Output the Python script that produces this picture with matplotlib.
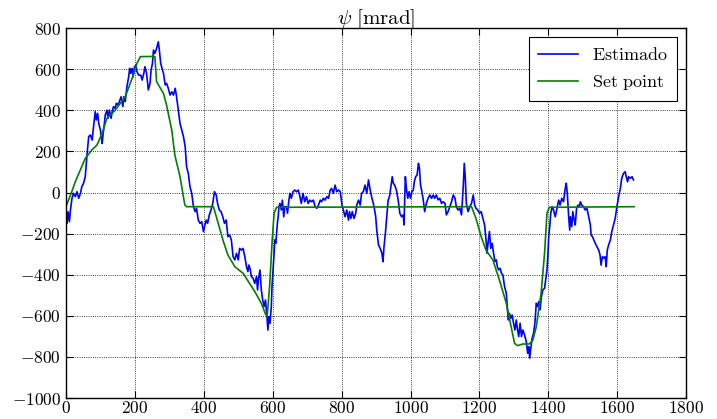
import matplotlib
matplotlib.use("Agg")
import matplotlib.pyplot as plt
from matplotlib.ticker import FuncFormatter

plt.rcParams['mathtext.fontset'] = 'cm'
plt.rcParams['font.family'] = ['DejaVu Serif']

# Estimado (blue)
est_x = [0, 3, 6, 10, 13, 17.5, 22, 27, 32, 37, 42, 46, 51, 56, 61, 66, 71, 76, 80, 85,
         88, 92, 95, 100, 105, 107, 111, 114, 119, 122, 126, 131, 134, 138, 143, 146, 151,
         155, 160, 165, 168, 172, 177, 182, 185, 188, 192, 195, 199, 203, 206, 211, 217,
         221, 226,
         229, 234, 239, 244, 247, 251, 254, 258, 263, 268, 271, 275, 280, 283, 288, 292,
         297, 302, 307, 312, 317, 321, 326, 331, 336, 341, 346, 350, 355, 360, 365, 370,
         375, 379, 384, 389, 394, 399, 402, 407, 411, 416, 421, 426, 431, 436, 440, 445,
         450, 455, 460, 465,
         470, 475, 480, 485, 490, 495, 500, 504, 509, 514, 519, 524, 528, 531, 535, 538,
         543, 548, 553, 556, 559, 563, 567, 571, 575, 579, 583, 586, 589, 592, 596, 598,
         601, 604, 606, 609, 612, 614, 616, 618, 621, 625, 628, 632, 635, 640, 643, 647,
         650, 654, 659, 664, 669, 674, 678, 683, 688, 693, 698, 703,
         708, 713, 718, 723, 728, 733, 738, 742, 747, 752, 757, 762, 767, 771, 776, 781,
         786, 791, 796, 798, 801, 805, 810, 815, 820, 823, 827, 831, 836, 841, 844, 849,
         854, 858, 863, 868, 873, 878, 883, 888, 892, 895, 899, 902, 907, 912, 917, 920,
         923, 927, 931, 935, 939, 943, 947,
         950, 954, 959, 964, 969, 974, 979, 981, 985, 988, 992, 996, 1000, 1004, 1008,
         1011, 1015, 1019, 1023, 1026, 1029, 1032, 1037, 1041, 1046, 1051, 1056, 1061,
         1066, 1070, 1075, 1080, 1085, 1090, 1095, 1100, 1104, 1109, 1114, 1119, 1124,
         1129, 1133, 1138, 1143, 1148, 1153, 1156, 1159, 1162, 1167, 1172, 1177, 1182,
         1186,
         1190, 1195, 1200, 1205, 1210, 1215, 1220, 1222, 1225, 1229, 1233, 1237, 1241,
         1245, 1249, 1252, 1256, 1260, 1264, 1268, 1273, 1278, 1281, 1284, 1287, 1291,
         1295, 1299, 1303, 1307, 1310, 1314, 1318, 1322, 1326, 1331, 1336, 1340, 1343,
         1346, 1349, 1353, 1357, 1361, 1365, 1369, 1372, 1376, 1380, 1384, 1389, 1392,
         1396, 1399, 1401, 1404, 1407, 1411, 1415,
         1420, 1425, 1430, 1434, 1439, 1444, 1449, 1452, 1455, 1459, 1462, 1464, 1468,
         1471, 1475, 1478, 1482, 1486, 1490, 1493, 1497, 1502, 1507, 1512, 1517, 1522,
         1524, 1528, 1532, 1536, 1541, 1546, 1550, 1553, 1557, 1561, 1565, 1568, 1571,
         1575, 1580, 1584, 1589, 1594, 1599, 1604, 1609, 1613, 1618, 1623, 1626, 1630,
         1633, 1638, 1643, 1647]
est_y = [-125, -150, -93, -142, -85, -28, -4, -20, 4, -28, -4, 28, 45, 77, 182, 272, 280, 255, 320, 393,
         353, 385, 336, 304, 239, 272, 328, 377, 401, 361, 401, 361, 393, 418, 409, 434, 426,
         442, 466, 418, 466, 442, 515, 563, 604, 580, 604, 563, 612, 620, 588, 571, 571,
         547, 580,
         612, 580, 499, 531, 596, 628, 693, 677, 701, 733, 693, 628, 596, 580, 523, 531,
         507, 474, 490, 474, 507, 466, 401, 336, 304, 272, 223, 126, 93, 28, -4, -69,
         -93, -77, -134, -150, -142, -190, -166, -134, -150, -109, -85, -53, 4, -12, -53, -85,
         -93, -117, -150, -134,
         -215, -207, -231, -312, -328, -296, -328, -272, -280, -272, -312, -361, -385, -353, -377, -409,
         -417, -442, -409, -474, -417, -377, -474, -523, -555, -523, -596, -669, -604, -636, -555, -458,
         -377, -296, -231, -247, -182, -142, -118, -69, -53, -85, -37, -118, -69, -69, -101, -37,
         -4, -28, 4, 12, 4, 12, -12, -53, -4, -45, -20, -53,
         -37, -45, -37, -69, -77, -61, -37, -45, -28, -37, -20, -28, 12, 20, -4, 36,
         4, 12, 4, -20, -61, -85, -118, -85, -134, -93, -126, -93, -126, -101, -61, -37,
         -61, -4, 4, 36, -4, 61, 12, -28, -53, -77, -118, -183, -255, -272, -296, -337,
         -264, -199, -118, -37, -20, 28, 77,
         45, 36, 12, -36, -101, -118, -109, -158, 77, 20, -28, 4, -28, 4, 12,
         53, 77, 85, 142, 117, 36, 12, -36, -93, -53, -28, -12, -28,
         -12, -28, -12, -36, -28, -53, -45, -53, -109, -93, -69, -45, -12,
         -28, -69, -85, -77, -109, 28, 142, 69, -53, -93, -69, -53, -12,
         -61,
         -77, -85, -101, -93, -126, -158, -247, -296, -247, -190, -272, -247, -296,
         -336, -328, -361, -377, -369, -393, -401, -458, -490, -563, -620, -588, -612,
         -596, -636, -669, -620, -661, -701, -636, -701, -669, -693, -726, -782, -750,
         -806, -758, -709, -685, -636, -539, -555, -531, -571, -506, -474, -466, -426,
         -377, -296, -215, -166, -101, -69, -85,
         -118, -77, -37, -61, -28, -45, 20, 45, -4, -118, -183, -118, -166,
         -93, -134, -158, -77, -61, -69, -45, -61, -69, -85, -77, -118, -158,
         -207, -215, -231, -247, -264, -280, -304, -353, -312, -320, -312, -361, -280,
         -255, -231, -191, -158, -126, -69, -20, 20, 69, 93, 101, 77, 52,
         77, 69, 77, 61]

# Set point (green)
sp_x = [0, 16, 27, 56, 75, 90, 105, 119, 143, 172, 192, 206, 216, 258, 263, 283, 292,
        307, 316, 331, 345, 350, 428, 457, 470, 490, 514, 548, 567, 579, 584, 591, 598,
        604, 611, 1177, 1190, 1205, 1219, 1239, 1258, 1278, 1292, 1302, 1311, 1326, 1345,
        1355, 1365, 1379, 1389, 1396, 1403, 1649]
sp_y = [-69, 0, 52, 166, 207, 231, 288, 361, 401, 466, 555, 628, 661, 662, 539, 482, 425,
        304, 182, 77, -61, -69, -69, -239, -304, -361, -393, -482, -539, -591, -601, -458, -247,
        -101, -72, -69, -126, -215, -280, -328, -426, -539, -653, -734, -745, -737, -737,
        -718, -653, -490, -296, -101, -72, -69]

x_ticks = [0, 200, 400, 600, 800, 1000, 1200, 1400, 1600, 1800]
y_ticks = [-1000, -800, -600, -400, -200, 0, 200, 400, 600, 800]

fig = plt.figure(figsize=(7.17, 4.19), dpi=100)
ax = fig.add_axes([0.092, 0.050, 0.865, 0.883])
ax.plot(est_x, est_y, color='b', lw=1.2, label=r'$\mathrm{Estimado}$')
ax.plot(sp_x, sp_y, color='g', lw=1.2, label=r'$\mathrm{Set\ point}$')
ax.set_xlim(0, 1800)
ax.set_ylim(-1000, 800)
ax.set_xticks(x_ticks)
ax.set_yticks(y_ticks)
fmt = FuncFormatter(lambda v, p: r'$%d$' % v)
ax.xaxis.set_major_formatter(fmt)
ax.yaxis.set_major_formatter(fmt)
ax.tick_params(direction='in', top=True, right=True, labelsize=12.5, length=5, width=0.8)
ax.tick_params(axis='x', pad=1.5)
ax.grid(True, color='black', linestyle=':', linewidth=0.6)
for s in ax.spines.values():
    s.set_linewidth(1.0)
ax.set_title(r'$\psi\ \mathrm{[mrad]}$', fontsize=15, pad=3)
leg = ax.legend(loc='upper right', fontsize=13, fancybox=False, framealpha=1,
                edgecolor='black', handlelength=2.2, borderpad=0.5, labelspacing=0.5)
leg.get_frame().set_linewidth(0.8)
fig.savefig('out.png', dpi=100)
